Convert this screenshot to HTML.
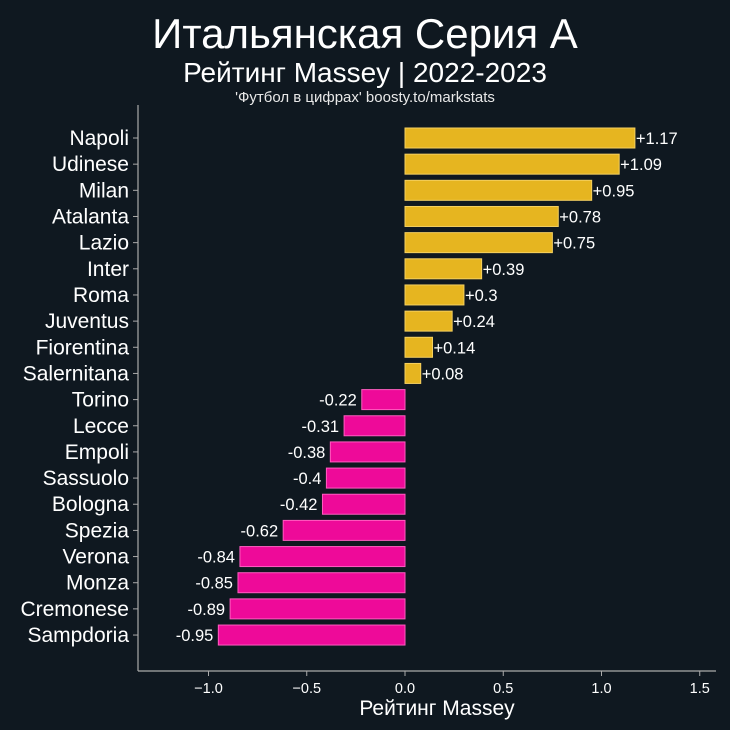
<!DOCTYPE html>
<html><head><meta charset="utf-8"><style>
html,body{margin:0;padding:0;background:#0f1820;}
svg{display:block;font-family:"Liberation Sans","DejaVu Sans",sans-serif;}
</style></head><body>
<svg id="c" width="730" height="730" xmlns="http://www.w3.org/2000/svg">
<rect width="730" height="730" fill="#0f1820"/>
<text x="365" y="48" text-anchor="middle" font-size="42" fill="#fff">Итальянская Серия А</text>
<text x="365" y="82" text-anchor="middle" font-size="28" fill="#fff">Рейтинг Massey | 2022-2023</text>
<text x="365" y="102" text-anchor="middle" font-size="15" fill="#e8e8e8">'Футбол в цифрах' boosty.to/markstats</text>
<line x1="138" y1="105" x2="138" y2="671" stroke="#aaa" stroke-width="1.2"/>
<line x1="138" y1="671" x2="716" y2="671" stroke="#aaa" stroke-width="1.2"/>
<text x="437" y="715" text-anchor="middle" font-size="21" fill="#fff">Рейтинг Massey</text>
<g id="bars"></g>
</svg>
<script>
const teams=["Napoli","Udinese","Milan","Atalanta","Lazio","Inter","Roma","Juventus","Fiorentina","Salernitana","Torino","Lecce","Empoli","Sassuolo","Bologna","Spezia","Verona","Monza","Cremonese","Sampdoria"];
const ratings=[1.17,1.09,0.95,0.78,0.75,0.39,0.3,0.24,0.14,0.08,-0.22,-0.31,-0.38,-0.4,-0.42,-0.62,-0.84,-0.85,-0.89,-0.95];
const xTicks=[-1.0,-0.5,0.0,0.5,1.0,1.5];
const xTickLabels=["−1.0","−0.5","0.0","0.5","1.0","1.5"];
const NS="http://www.w3.org/2000/svg";
const svg=document.getElementById('c');
const g=document.getElementById('bars');
const x=v=>405+v*196.5;
const y=i=>138+i*26.16;
function mk(t,a,p){const e=document.createElementNS(NS,t);for(const k in a)e.setAttribute(k,a[k]);(p||svg).appendChild(e);return e;}
xTicks.forEach((v,i)=>{
  const t=mk('line',{x1:x(v),x2:x(v),y1:671,y2:676,stroke:'#aaa'});
  
  
  const l=mk('text',{x:x(v),y:693,'text-anchor':'middle','font-size':14.5,fill:'#fff'});
  l.textContent=xTickLabels[i];
  
  
});
teams.forEach((tm,i)=>{
  const v=ratings[i],cy=y(i);
  const pos=v>=0;
  const r=mk('rect',{x:Math.min(x(0),x(v)),y:cy-10,width:Math.abs(x(v)-x(0)),height:20,fill:pos?'#e6b520':'#ee0a99',stroke:pos?'#f5d060':'#ff5cc0','stroke-width':1},g);
  
  
  const tk=mk('line',{x1:133,x2:138,y1:cy,y2:cy,stroke:'#aaa'});
  
  
  const lb=mk('text',{x:129,y:cy+7,'text-anchor':'end','font-size':21,fill:'#fff'});
  lb.textContent=tm;
  
  
  const vl=mk('text',{x:pos?x(v)+1:x(v)-5,y:cy+6,'text-anchor':pos?'start':'end','font-size':16.5,fill:'#fff'});
  vl.textContent=pos?'+'+v:String(v);
  
  
});
</script>
</body></html>
